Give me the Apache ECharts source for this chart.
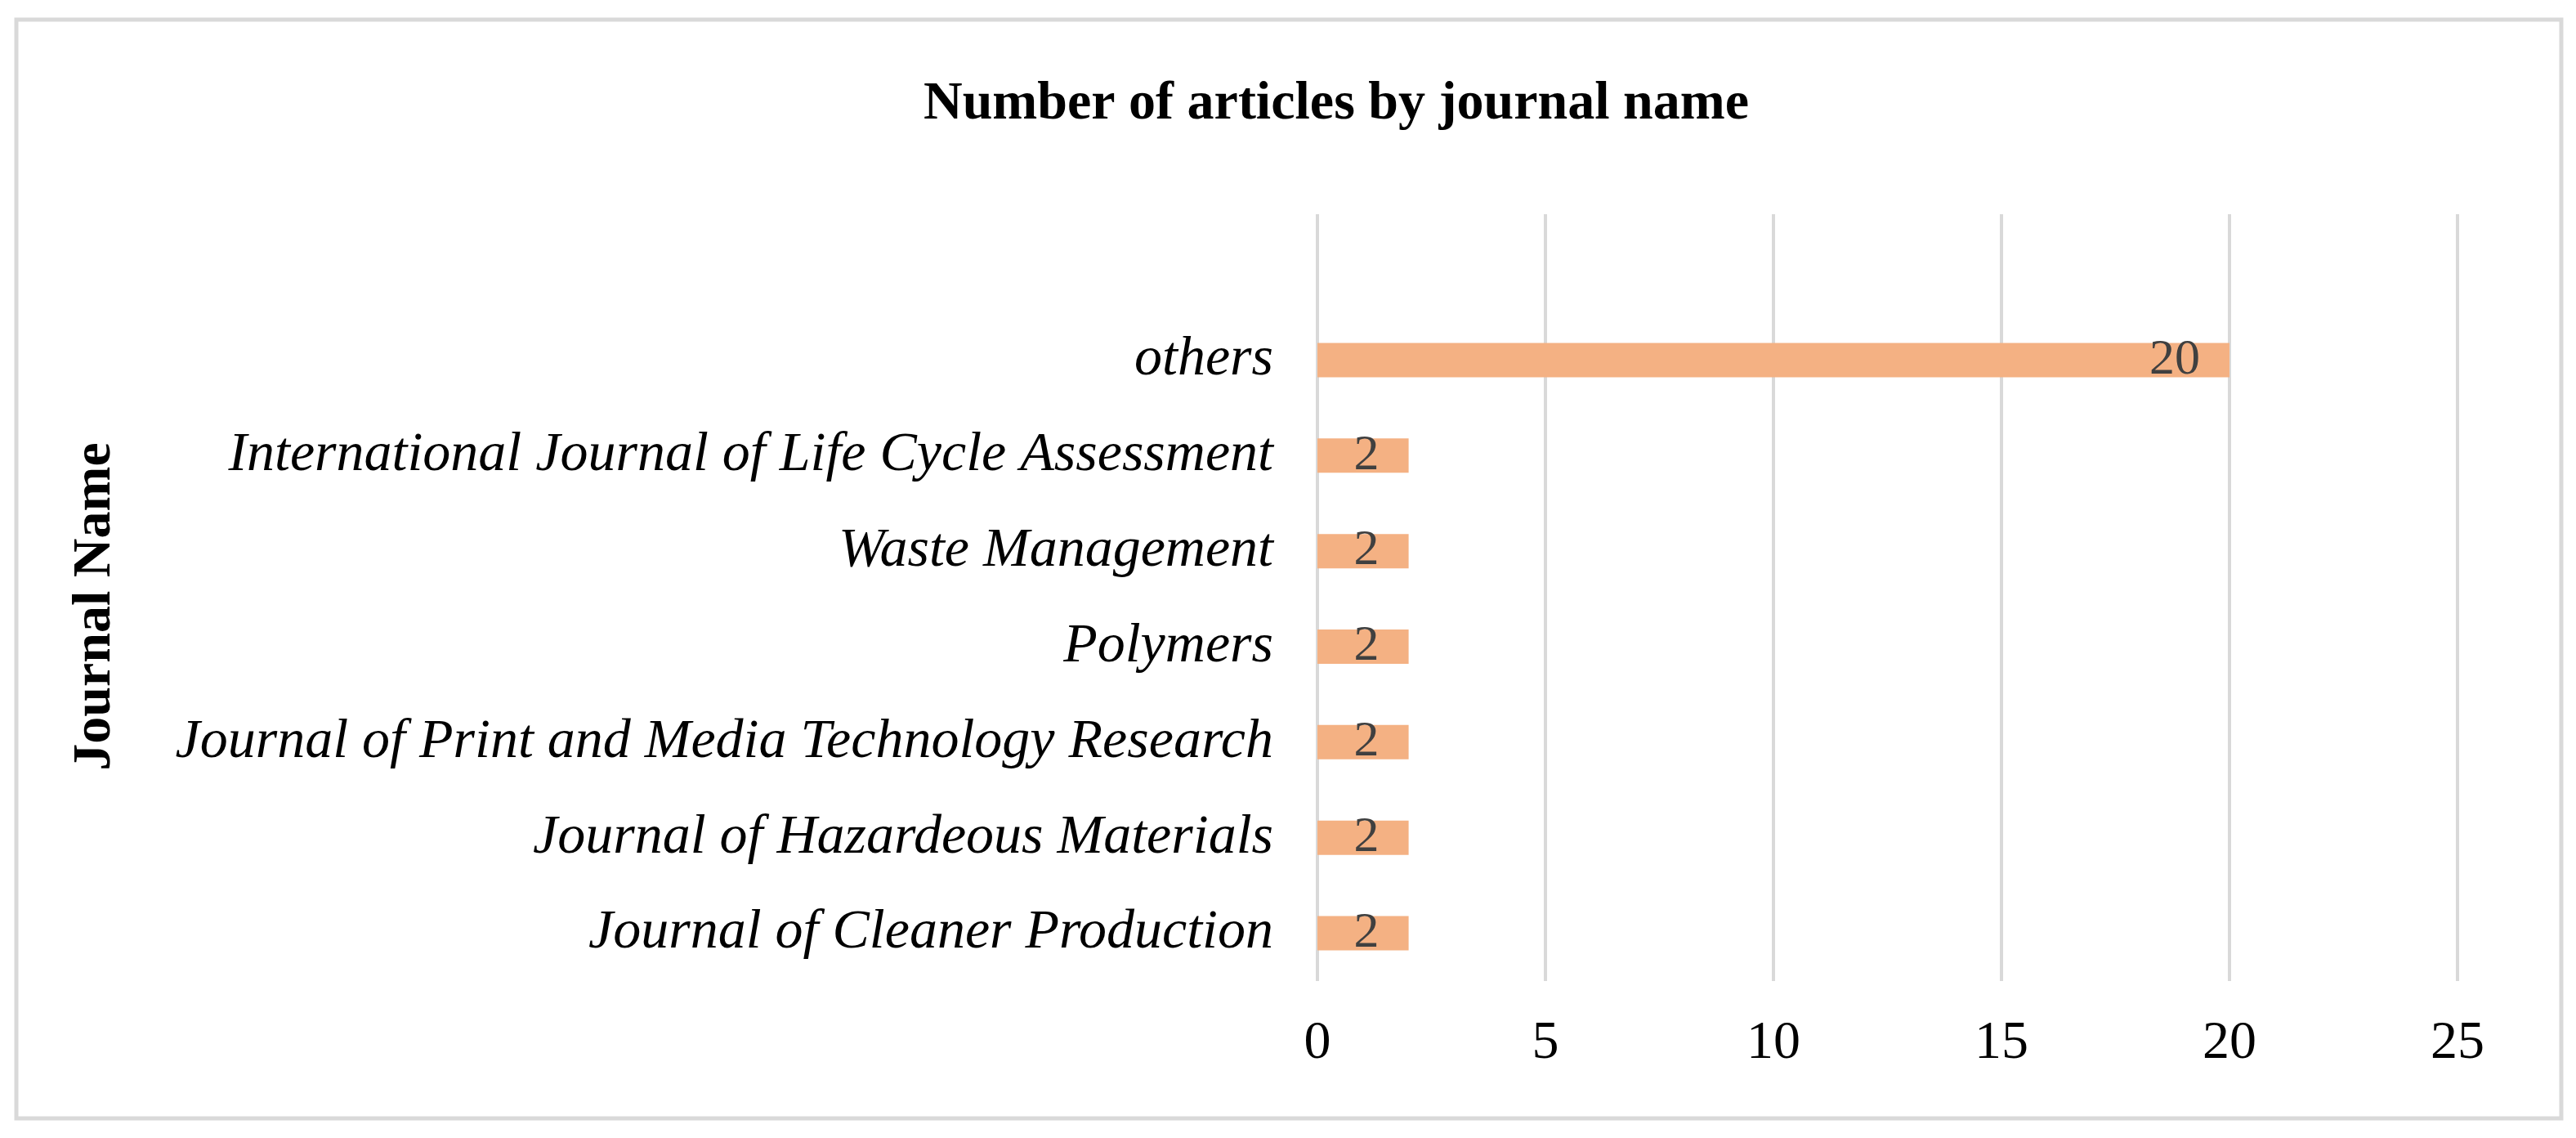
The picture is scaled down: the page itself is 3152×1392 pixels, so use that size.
<!DOCTYPE html>
<html>
<head>
<meta charset="utf-8">
<style>html,body{margin:0;padding:0;background:#fff;}#c{width:3152px;height:1392px;}</style>
<script src="https://cdn.jsdelivr.net/npm/echarts@6/dist/echarts.min.js"></script>
</head>
<body>
<div id="c"></div>
<script>
const categories = [
  "Journal of Cleaner Production",
  "Journal of Hazardeous Materials",
  "Journal of Print and Media Technology Research",
  "Polymers",
  "Waste Management",
  "International Journal of Life Cycle Assessment",
  "others"
];
const articleCounts = [2, 2, 2, 2, 2, 2, 20];
const xTicks = { min: 0, max: 25, interval: 5 };
const chartTitle = "Number of articles by journal name";
const yAxisTitle = "Journal Name";

const serif = "'Liberation Serif', 'Times New Roman', serif";
const chart = echarts.init(document.getElementById('c'), null, { renderer: 'canvas' });
const gridLeft = 1612, gridRight = 145;
chart.setOption({
  backgroundColor: '#fff',
  animation: false,
  title: {
    text: chartTitle, left: 1630, top: 90, textAlign: 'center',
    textStyle: { fontFamily: serif, fontWeight: 'bold', fontSize: 66, color: '#000' }
  },
  graphic: [
    { type: 'rect', shape: { x: 20, y: 24, width: 3114, height: 1344 }, style: { fill: 'none', stroke: '#D9D9D9', lineWidth: 5 }, z: 0 },
    { type: 'text', x: 117, y: 742, rotation: Math.PI / 2,
      style: { text: yAxisTitle, fontFamily: serif, fontWeight: 'bold', fontSize: 66, fill: '#000', align: 'center', verticalAlign: 'middle' } }
  ],
  grid: [
    { left: gridLeft, right: gridRight, top: 382, bottom: 192, containLabel: false },
    { left: gridLeft, right: gridRight, top: 262, height: 120, containLabel: false }
  ],
  xAxis: [
    { gridIndex: 0, type: 'value', min: xTicks.min, max: xTicks.max, interval: xTicks.interval,
      axisLine: { show: false }, axisTick: { show: false },
      splitLine: { show: true, lineStyle: { color: '#D9D9D9', width: 4 } },
      axisLabel: { fontFamily: serif, fontSize: 66, color: '#000', margin: 44 } },
    { gridIndex: 1, type: 'value', min: xTicks.min, max: xTicks.max, interval: xTicks.interval,
      axisLine: { show: false }, axisTick: { show: false }, axisLabel: { show: false },
      splitLine: { show: true, lineStyle: { color: '#D9D9D9', width: 4 } } }
  ],
  yAxis: [
    { gridIndex: 0, type: 'category', data: categories,
      axisLine: { show: false }, axisTick: { show: false },
      axisLabel: { fontFamily: serif, fontStyle: 'italic', fontSize: 68, color: '#000', margin: 54 } },
    { gridIndex: 1, type: 'category', data: [''], show: false }
  ],
  series: [{
    type: 'bar', xAxisIndex: 0, yAxisIndex: 0,
    data: articleCounts, barWidth: 42,
    itemStyle: { color: '#F4B183' },
    label: { show: true, position: 'insideRight', distance: 36,
      fontFamily: serif, fontSize: 62, color: '#404040' }
  }]
});
</script>
</body>
</html>
